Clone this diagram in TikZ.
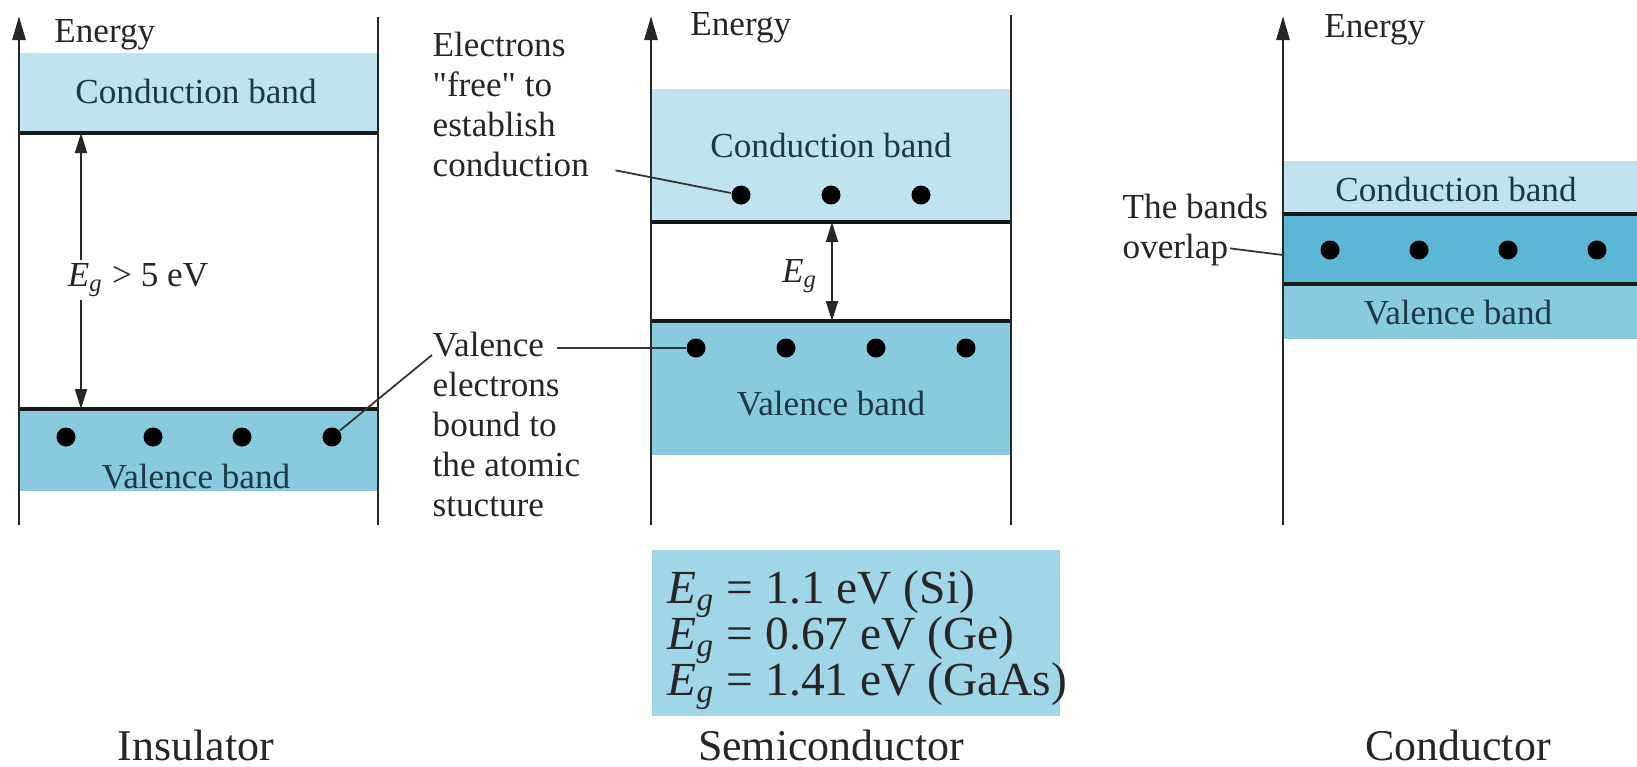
\documentclass[tikz,border=0pt]{standalone}
\usepackage{fontspec}
\setmainfont{Liberation Serif}
\usetikzlibrary{arrows.meta, positioning, calc}

\definecolor{cbblue}{RGB}{192,228,239}
\definecolor{vbblue}{RGB}{137,203,222}
\definecolor{ovblue}{RGB}{92,182,212}
\definecolor{boxblue}{RGB}{160,214,232}
\definecolor{bandtext}{RGB}{30,55,70}

\newcommand{\Eg}{\textit{E}\textsubscript{\textit{g}}}

\tikzset{
  axe/.style={line width=0.8pt, black!85, -{Triangle[length=2.4mm,width=1.3mm]}},
  bord/.style={line width=0.8pt, black!85},
  niveau/.style={line width=1.2pt, black!90},
  electron/.style={circle, fill=black, inner sep=0pt, minimum size=1.9mm},
  bande/.style={font=\fontsize{10}{12}\selectfont, text=bandtext},
  energie/.style={anchor=west, font=\fontsize{10}{12}\selectfont, text=black!85},
  ecart/.style={font=\fontsize{10}{12}\selectfont, text=black!85},
  note/.style={anchor=north west, font=\fontsize{10}{11.4}\selectfont, align=left, text=black!85, inner sep=0pt},
  fleche/.style={line width=0.5pt, black!85, {Triangle[length=2mm,width=1.2mm]}-{Triangle[length=2mm,width=1.2mm]}},
  renvoi/.style={line width=0.5pt, black!80},
  valeur/.style={anchor=base west, font=\fontsize{13.5}{16}\selectfont, inner sep=0pt, text=black!85},
  titre/.style={font=\fontsize{12.5}{14}\selectfont, inner sep=0pt, text=black!85}
}

\begin{document}
\begin{tikzpicture}[x=0.1mm, y=-0.1mm]
  \useasboundingbox (0,0) rectangle (1637,766);

  % Insulator
  \fill[cbblue] (19,53) rectangle (378,133);
  \fill[vbblue] (19,409) rectangle (378,491);
  \draw[niveau] (19,133) -- (378,133);
  \draw[niveau] (19,409) -- (378,409);
  \draw[axe] (19,525) -- (19,16);
  \draw[bord] (378,525) -- (378,17);
  \node[energie] (ien) at (42,35) {Energy};
  \node[bande] (icb) at (196,91) {Conduction band};
  \node[bande] (ivb) at (196,477) {Valence band};
  \draw[fleche] (81,133) -- (81,409);
  \node[ecart, fill=white, inner sep=1pt] (igap) at (138,280) {\Eg{} > 5 eV};
  \foreach \x [count=\i] in {66,153,242,332} {
    \node[electron] (iv\i) at (\x,437) {};
  }

  % Semiconductor
  \fill[cbblue] (651,89) rectangle (1011,222);
  \fill[vbblue] (651,321) rectangle (1011,455);
  \draw[niveau] (651,222) -- (1011,222);
  \draw[niveau] (651,321) -- (1011,321);
  \draw[axe] (651,525) -- (651,16);
  \draw[bord] (1011,525) -- (1011,15);
  \node[energie] (sen) at (678,28) {Energy};
  \node[bande] (scb) at (831,145) {Conduction band};
  \node[bande] (svb) at (831,404) {Valence band};
  \draw[fleche] (832,222) -- (832,321);
  \node[ecart] (sgap) at (800,276) {\Eg};
  \foreach \x [count=\i] in {741,831,921} {
    \node[electron] (sc\i) at (\x,195) {};
  }
  \foreach \x [count=\i] in {696,786,876,966} {
    \node[electron] (sv\i) at (\x,348) {};
  }

  % Annotations between the two
  \node[note] (libres) at (432,31) {Electrons\\\textquotedbl free\textquotedbl{} to\\establish\\conduction};
  \draw[renvoi] ($(libres.south east)+(26,-7)$) -- (sc1);
  \node[note] (liees) at (432,331) {Valence\\electrons\\bound to\\the atomic\\stucture};
  \draw[renvoi] ($(liees.north west)+(125,17)$) -- (sv1);
  \draw[renvoi] ($(liees.north west)+(0,24)$) -- (iv4);

  % Eg values
  \fill[boxblue] (652,550) rectangle (1060,716);
  \node[valeur] (gsi) at (667,603) {\Eg{} = 1.1 eV (Si)};
  \node[valeur] (gge) at (667,649) {\Eg{} = 0.67 eV (Ge)};
  \node[valeur] (gga) at (667,695) {\Eg{} = 1.41 eV (GaAs)};

  % Conductor
  \fill[cbblue] (1283,161) rectangle (1637,214);
  \fill[ovblue] (1283,214) rectangle (1637,284);
  \fill[vbblue] (1283,284) rectangle (1637,339);
  \draw[niveau] (1283,214) -- (1637,214);
  \draw[niveau] (1283,284) -- (1637,284);
  \draw[axe] (1283,525) -- (1283,16);
  \node[energie] (cen) at (1312,30) {Energy};
  \node[bande] (ccb) at (1456,189) {Conduction band};
  \node[bande] (cvb) at (1458,313) {Valence band};
  \foreach \x [count=\i] in {1330,1419,1508,1597} {
    \node[electron] (cd\i) at (\x,250) {};
  }
  \node[note] (bandes) at (1122,193) {The bands\\overlap};
  \coordinate (axec) at (1283,255);
  \draw[renvoi] ($(bandes.south west)+(108,-18)$) -- (axec);

  % Titles
  \node[titre] (isol) at (196,745) {Insulator};
  \node[titre] (semi) at (831,745) {Semiconductor};
  \node[titre] (cond) at (1458,745) {Conductor};
\end{tikzpicture}
\end{document}
